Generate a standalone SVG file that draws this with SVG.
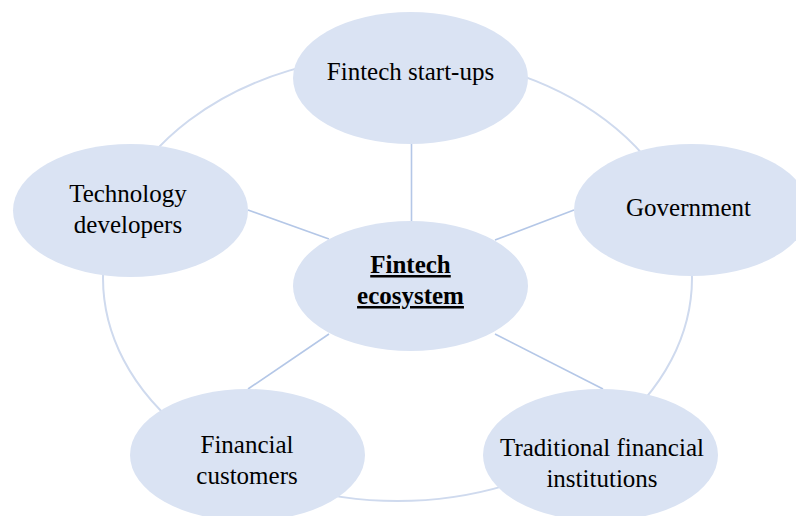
<svg xmlns="http://www.w3.org/2000/svg" width="796" height="516" viewBox="0 0 796 516">
<style>
.node{fill:#dae3f3;}
.ring{fill:none;stroke:#cfdaee;stroke-width:2;}
.spoke{stroke:#b4c7e7;stroke-width:1.6;fill:none;}
text{font-family:"Liberation Serif","Times New Roman",serif;font-size:25px;fill:#000;text-anchor:middle;}
.b{font-weight:bold;text-decoration:underline;}
</style>
<rect width="796" height="516" fill="#fff"/>
<g id="connectors">
<ellipse class="ring" cx="397.5" cy="278" rx="294.5" ry="223"/>
<line class="spoke" x1="411.5" y1="144" x2="411.5" y2="222"/>
<line class="spoke" x1="248" y1="210" x2="329" y2="239"/>
<line class="spoke" x1="574" y1="210" x2="495" y2="240"/>
<line class="spoke" x1="248" y1="389" x2="329" y2="334"/>
<line class="spoke" x1="495" y1="334" x2="603" y2="389"/>
</g>
<g id="center">
<ellipse class="node" cx="410.5" cy="286" rx="117.5" ry="65"/>
<text class="b" x="410.5" y="273">Fintech</text>
<text class="b" x="410.5" y="304">ecosystem</text>
</g>
<g id="startups">
<ellipse class="node" cx="410.5" cy="78" rx="117.5" ry="66"/>
<text x="410.5" y="80">Fintech start-ups</text>
</g>
<g id="government">
<ellipse class="node" cx="691.5" cy="210" rx="117.5" ry="66"/>
<text x="688.5" y="216">Government</text>
</g>
<g id="technology">
<ellipse class="node" cx="130.5" cy="210.5" rx="117.5" ry="66.5"/>
<text x="128" y="202">Technology</text>
<text x="128" y="233">developers</text>
</g>
<g id="customers">
<ellipse class="node" cx="247.5" cy="455" rx="117.5" ry="66"/>
<text x="247" y="453">Financial</text>
<text x="247" y="484">customers</text>
</g>
<g id="traditional">
<ellipse class="node" cx="600.5" cy="455" rx="117.5" ry="66"/>
<text x="602" y="456">Traditional financial</text>
<text x="602" y="487">institutions</text>
</g>
</svg>
